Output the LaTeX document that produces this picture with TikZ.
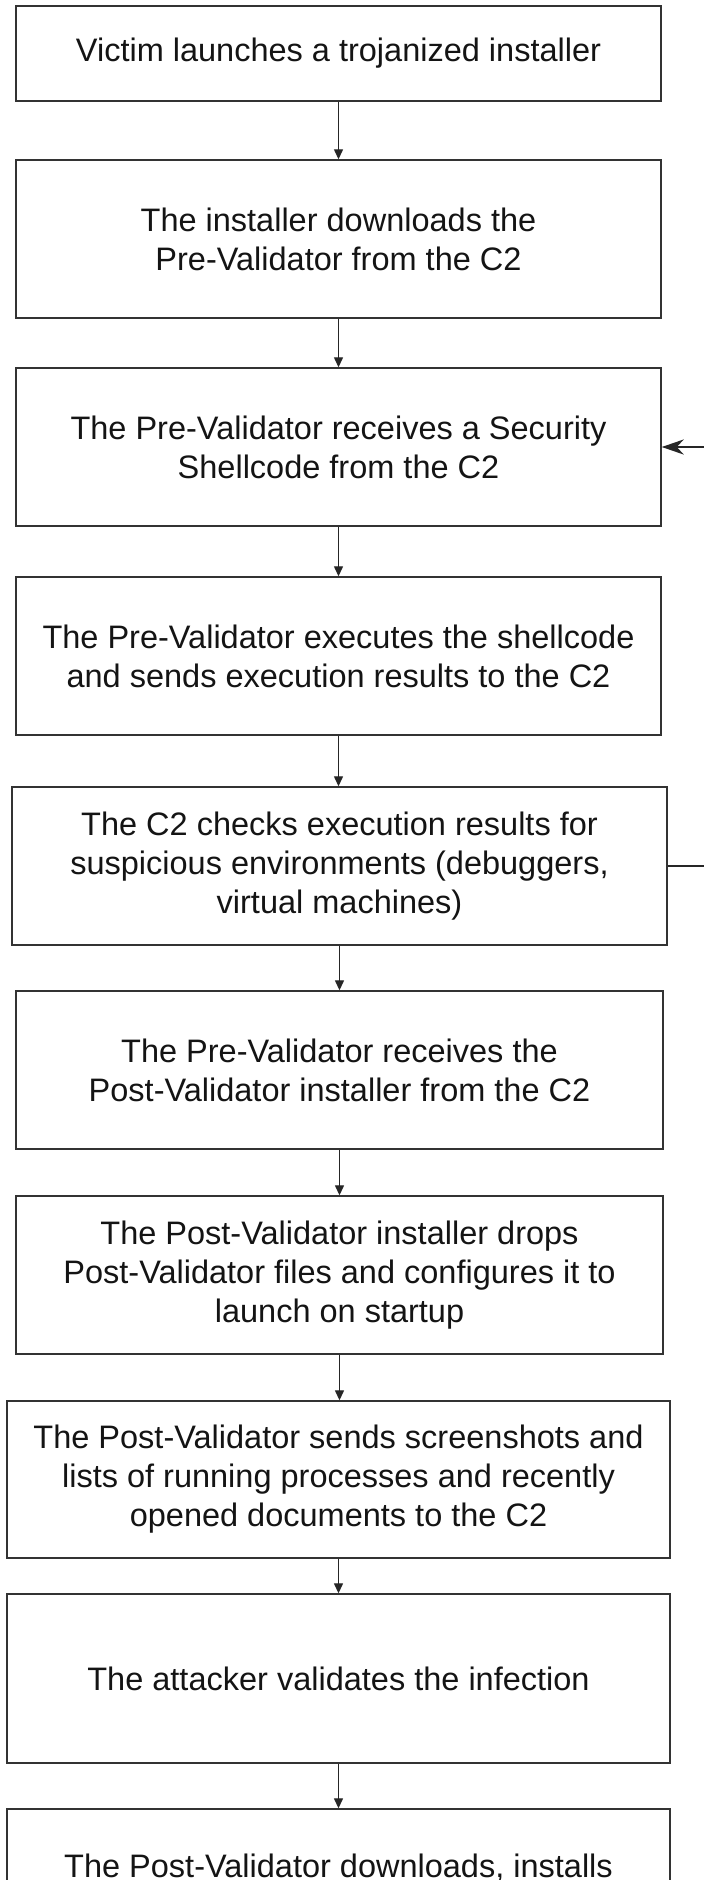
\documentclass[tikz,border=0pt]{standalone}
\usepackage{fontspec}
\setmainfont{Liberation Sans}
\usetikzlibrary{arrows.meta}

\begin{document}
\begin{tikzpicture}[x=1pt,y=-1pt,
  stepbox/.style={draw=black!80, line width=1.4pt, rectangle, align=center,
    inner sep=0pt, text=black!92,
    font=\fontsize{32.5}{39}\selectfont},
  flow/.style={draw=black!85, line width=1.3pt,
    -{Triangle[length=10pt,width=9pt]}},
  loopback/.style={draw=black!85, line width=2.6pt,
    -{Stealth[length=22pt,width=15pt,inset=7pt]}}
]
\useasboundingbox (0,0) rectangle (704,1880);
\clip (0,0) rectangle (704,1880);
\fill[white] (0,0) rectangle (704,1880);

% process steps, top to bottom
\node[stepbox, minimum width=645pt, minimum height=95pt]  (b1) at (338.5,53.5)
  {Victim launches a trojanized installer};
\node[stepbox, minimum width=645pt, minimum height=158pt] (b2) at (338.5,239)
  {The installer downloads the\\Pre-Validator from the C2};
\node[stepbox, minimum width=645pt, minimum height=158pt] (b3) at (338.5,447)
  {The Pre-Validator receives a Security\\Shellcode from the C2};
\node[stepbox, minimum width=645pt, minimum height=158pt] (b4) at (338.5,656)
  {The Pre-Validator executes the shellcode\\and sends execution results to the C2};
\node[stepbox, minimum width=655pt, minimum height=158pt] (b5) at (339.5,866)
  {The C2 checks execution results for\\suspicious environments (debuggers,\\virtual machines)};
\node[stepbox, minimum width=647pt, minimum height=158pt] (b6) at (339.5,1070)
  {The Pre-Validator receives the\\Post-Validator installer from the C2};
\node[stepbox, minimum width=647pt, minimum height=158pt] (b7) at (339.5,1275)
  {The Post-Validator installer drops\\Post-Validator files and configures it to\\launch on startup};
\node[stepbox, minimum width=663pt, minimum height=157pt] (b8) at (338.5,1479.5)
  {The Post-Validator sends screenshots and\\lists of running processes and recently\\opened documents to the C2};
\node[stepbox, minimum width=663pt, minimum height=169pt] (b9) at (338.5,1678.5)
  {The attacker validates the infection};
\node[stepbox, minimum width=663pt, minimum height=118pt] (b10) at (338.5,1868)
  {The Post-Validator downloads, installs};

% straight connectors
\foreach \a/\b in {b1/b2,b2/b3,b3/b4,b4/b5,b5/b6,b6/b7,b7/b8,b8/b9,b9/b10}
  \draw[flow] (\a.south) -- (\a.south |- \b.north);

% return path from the check back to the shellcode step
\coordinate (rx) at (740,866);
\draw[loopback] (b5.east) -- (rx) |- (b3.east);
\end{tikzpicture}
\end{document}
